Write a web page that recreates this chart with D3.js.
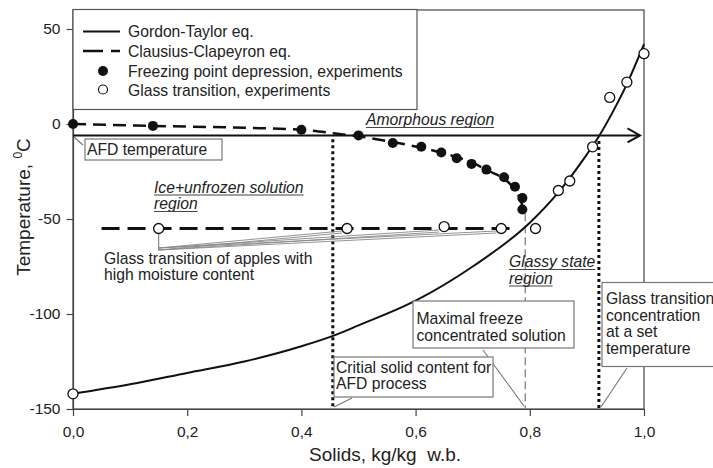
<!DOCTYPE html>
<html>
<head>
<meta charset="utf-8">
<script src="https://cdn.jsdelivr.net/npm/d3@7"></script>
<style>
  body { margin: 0; background: #fff; }
  svg { display: block; font-family: "Liberation Sans", Arial, sans-serif; }
  text { fill: #222; }
</style>
</head>
<body>
<div id="chart"></div>
<script>
const width = 713;
const height = 468;
const fs = 15.7;

// axis ticks
const xTicks = [0, 0.2, 0.4, 0.6, 0.8, 1.0];
const yTicks = [-150, -100, -50, 0, 50];

// Gordon-Taylor curve
const gtSolids = [0, 0.1, 0.2, 0.3, 0.4, 0.46, 0.5, 0.6, 0.7, 0.8, 0.85, 0.9, 0.92, 0.95, 0.97, 1.0];
const gtTemp = [-142, -137, -131, -125, -117, -111, -106, -93, -75, -52, -36, -16, -7, 9, 21, 42];

// Clausius-Clapeyron curve
const ccSolids = [0, 0.14, 0.3, 0.4, 0.46, 0.5, 0.56, 0.61, 0.65, 0.7, 0.73, 0.76, 0.775, 0.785, 0.79];
const ccTemp = [0, -1, -2, -3, -5, -6.5, -9.5, -12.5, -15.5, -20.5, -25, -30, -35, -41, -47];

// freezing point depression, experiments
const fpSolids = [0, 0.14, 0.40, 0.50, 0.56, 0.61, 0.645, 0.672, 0.698, 0.724, 0.755, 0.774, 0.787, 0.787];
const fpTemp = [0, -1, -3, -6, -10, -12, -15, -18, -21, -24, -28, -33, -39, -45];

// glass transition, experiments
const gSolids = [0, 0.15, 0.48, 0.65, 0.75, 0.81, 0.85, 0.87, 0.91, 0.94, 0.97, 1.0];
const gTemp = [-142, -55, -55, -54, -55, -55, -35, -30, -12, 14, 22, 37];

// reference levels
const afdTemp = -6;
const applesTemp = -55;
const critSolids = 0.455;
const maxFreezeSolids = 0.792;
const glassConcSolids = 0.921;

const x = d3.scaleLinear().domain([0, 1]).range([73, 644]);
const y = d3.scaleLinear().domain([-150, 60]).range([409, 10]);

const svg = d3.select("#chart").append("svg")
  .attr("width", width)
  .attr("height", height);

const ink = "#111";
const grey = "#777";

// frame
svg.append("rect")
  .attr("x", x(0)).attr("y", y(60))
  .attr("width", x(1) - x(0)).attr("height", y(-150) - y(60))
  .attr("fill", "none").attr("stroke", "#444").attr("stroke-width", 1.2);

// axes
svg.append("g")
  .attr("transform", `translate(${x(0)},0)`)
  .call(d3.axisLeft(y).tickValues(yTicks).tickSize(6.5).tickPadding(6).tickSizeOuter(0).tickFormat(d => String(d)));
svg.append("g")
  .attr("transform", `translate(0,${y(-150)})`)
  .call(d3.axisBottom(x).tickValues(xTicks).tickSize(7).tickPadding(10).tickSizeOuter(0).tickFormat(d => d.toFixed(1).replace(".", ",")));
svg.selectAll(".tick text").attr("font-size", 15.5).attr("font-family", "Liberation Sans, Arial, sans-serif").attr("fill", "#222");
svg.selectAll(".tick line, .domain").attr("stroke", "#444").attr("stroke-width", 1.2);

// axis titles
svg.append("text")
  .attr("x", 385).attr("y", 461)
  .attr("text-anchor", "middle")
  .attr("font-size", 19)
  .style("white-space", "pre")
  .text("Solids, kg/kg  w.b.");

const yTitle = svg.append("text")
  .attr("transform", "translate(30,207) rotate(-90)")
  .attr("text-anchor", "middle")
  .attr("font-size", 19);
yTitle.append("tspan").text("Temperature, ");
yTitle.append("tspan").attr("font-size", 12).attr("dy", -8).text("0");
yTitle.append("tspan").attr("dy", 8).text("C");

// reference lines
[[critSolids, -8], [glassConcSolids, -9]].forEach(([s, t]) => {
  svg.append("line")
    .attr("x1", x(s)).attr("x2", x(s))
    .attr("y1", y(t)).attr("y2", y(-150))
    .attr("stroke", ink).attr("stroke-width", 3).attr("stroke-dasharray", "3,3");
});

svg.append("line")
  .attr("x1", x(maxFreezeSolids)).attr("x2", x(maxFreezeSolids))
  .attr("y1", y(-47)).attr("y2", y(-150))
  .attr("stroke", grey).attr("stroke-width", 1.2).attr("stroke-dasharray", "8,4");

// amorphous arrow
svg.append("line")
  .attr("x1", x(0)).attr("x2", x(0.993))
  .attr("y1", y(afdTemp)).attr("y2", y(afdTemp))
  .attr("stroke", ink).attr("stroke-width", 2);
svg.append("path")
  .attr("d", `M${x(0.993) - 12.5},${y(afdTemp) - 7}L${x(0.993)},${y(afdTemp)}L${x(0.993) - 12.5},${y(afdTemp) + 7}`)
  .attr("fill", "none").attr("stroke", ink).attr("stroke-width", 2);

// horizontal glass transition level
svg.append("line")
  .attr("x1", x(0.05)).attr("x2", x(0.77))
  .attr("y1", y(applesTemp)).attr("y2", y(applesTemp))
  .attr("stroke", ink).attr("stroke-width", 3).attr("stroke-dasharray", "18,8");

// curves
const line = d3.line().x(d => x(d[0])).y(d => y(d[1])).curve(d3.curveMonotoneX);

svg.append("path")
  .datum(d3.zip(gtSolids, gtTemp))
  .attr("d", line)
  .attr("fill", "none").attr("stroke", ink).attr("stroke-width", 2);

svg.append("path")
  .datum(d3.zip(ccSolids, ccTemp))
  .attr("d", line)
  .attr("fill", "none").attr("stroke", ink).attr("stroke-width", 2.5).attr("stroke-dasharray", "13,7");

// glass transition leaders
const leadFrom = [x(0.15), 248];
[[0.48, 231], [0.65, 230], [0.75, 231]].forEach(([s, py]) => {
  [0, 2].forEach(off => {
    svg.append("line")
      .attr("x1", leadFrom[0]).attr("y1", leadFrom[1] + off)
      .attr("x2", x(s) - 5).attr("y2", py + off)
      .attr("stroke", "#888").attr("stroke-width", 0.9);
  });
});
svg.append("line")
  .attr("x1", x(0.15)).attr("x2", x(0.15))
  .attr("y1", y(applesTemp) + 5).attr("y2", 250)
  .attr("stroke", "#888").attr("stroke-width", 1.2);

// points
svg.append("g").selectAll("circle")
  .data(d3.zip(fpSolids, fpTemp))
  .join("circle")
  .attr("cx", d => x(d[0])).attr("cy", d => y(d[1]))
  .attr("r", 5).attr("fill", ink);

svg.append("g").selectAll("circle")
  .data(d3.zip(gSolids, gTemp))
  .join("circle")
  .attr("cx", d => x(d[0])).attr("cy", d => y(d[1]))
  .attr("r", 5).attr("fill", "#fff").attr("stroke", ink).attr("stroke-width", 1.3);

// legend
const legend = svg.append("g");
legend.append("rect")
  .attr("x", 73).attr("y", 9.5).attr("width", 344).attr("height", 100)
  .attr("fill", "#fff").attr("stroke", "#555").attr("stroke-width", 1.2);
legend.append("line").attr("x1", 83).attr("x2", 120).attr("y1", 31.5).attr("y2", 31.5)
  .attr("stroke", ink).attr("stroke-width", 2);
legend.append("line").attr("x1", 83).attr("x2", 120).attr("y1", 51).attr("y2", 51)
  .attr("stroke", ink).attr("stroke-width", 2.5).attr("stroke-dasharray", "20,8");
legend.append("circle").attr("cx", 103).attr("cy", 71).attr("r", 5).attr("fill", ink);
legend.append("circle").attr("cx", 103).attr("cy", 89.5).attr("r", 4.5)
  .attr("fill", "#fff").attr("stroke", ink).attr("stroke-width", 1.2);
const legendLabels = ["Gordon-Taylor eq.", "Clausius-Clapeyron eq.", "Freezing point depression, experiments", "Glass transition, experiments"];
legend.selectAll("text.lab")
  .data(legendLabels)
  .join("text")
  .attr("class", "lab")
  .attr("x", 128)
  .attr("y", (d, i) => [37, 56.5, 76.5, 95.5][i])
  .attr("font-size", fs)
  .text(d => d);

// boxed notes
function note(bx, by, bw, bh, lines, tx, ty, lh) {
  svg.append("rect")
    .attr("x", bx).attr("y", by).attr("width", bw).attr("height", bh)
    .attr("fill", "#fff").attr("stroke", grey).attr("stroke-width", 1.2);
  lines.forEach((t, i) => {
    svg.append("text").attr("x", tx).attr("y", ty + i * lh)
      .attr("font-size", fs).text(t);
  });
}
function leader(x1, y1, x2, y2) {
  svg.append("line").attr("x1", x1).attr("y1", y1).attr("x2", x2).attr("y2", y2)
    .attr("stroke", grey).attr("stroke-width", 1.1);
}

leader(74, 137, 83, 145);
note(85, 139, 137, 21, ["AFD temperature"], 87, 155, 0);

leader(483, 350, 524, 406);
note(413, 301, 161, 47, ["Maximal freeze", "concentrated solution"], 416.5, 323.5, 17.5);

leader(352, 398, 334, 407);
note(334, 357, 159, 40, ["Critial solid content for", "AFD process"], 336, 372.5, 16.5);

leader(627, 368, 601, 407);
note(602, 282.5, 120, 84, ["Glass transition", "concentration", "at a set", "temperature"], 606, 304, 16.5);

// plain notes
["Glass transition of apples with", "high moisture content"].forEach((t, i) => {
  svg.append("text").attr("x", 104).attr("y", 264 + i * 16).attr("font-size", fs).text(t);
});

// region labels, italic and underlined
function region(tx, ty, lines) {
  lines.forEach((t, i) => {
    const el = svg.append("text").attr("x", tx).attr("y", ty + i * 16.5)
      .attr("font-size", fs).attr("font-style", "italic").text(t);
    const w = el.node().getComputedTextLength();
    svg.append("line")
      .attr("x1", tx).attr("x2", tx + w)
      .attr("y1", ty + i * 16.5 + 2.5).attr("y2", ty + i * 16.5 + 2.5)
      .attr("stroke", "#444").attr("stroke-width", 1.1);
  });
}
region(366, 125, ["Amorphous region"]);
region(154, 192.5, ["Ice+unfrozen solution", "region"]);
region(509, 267, ["Glassy state", "region"]);
</script>
</body>
</html>
